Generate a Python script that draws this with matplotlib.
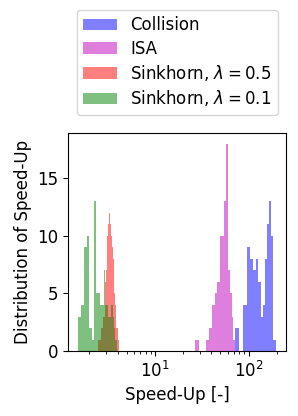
import numpy as np
import matplotlib
matplotlib.use("Agg")
import matplotlib.pyplot as plt

plt.rcParams["font.size"] = 12

# series (linear bins, log x-axis)
labels = ["Collision", "ISA", r"Sinkhorn, $\lambda = 0.5$", r"Sinkhorn, $\lambda = 0.1$"]
colors = ["b", "m", "r", "g"]

collision_range = (71.6, 197.0)
collision_counts = [2, 0, 4, 9, 8, 7, 8, 6, 3, 4, 8, 11, 13, 10, 1, 1]

isa_range = (26.9, 71.6)
isa_counts = [1, 0, 0, 1, 2, 4, 5, 6, 10, 10, 13, 18, 7, 5, 3, 1]

sink05_range = (2.50, 4.14)
sink05_counts = [1, 1, 2, 2, 3, 6, 7, 10, 11, 12, 11, 10, 9, 8, 5, 4, 3, 2, 2, 1]

sink01_range = (1.52, 3.92)
sink01_counts = [3, 4, 9, 10, 2, 1, 13, 5, 5, 4, 4, 7, 4, 4, 3, 3, 4, 3, 2, 1]

ranges = [collision_range, isa_range, sink05_range, sink01_range]
counts = [collision_counts, isa_counts, sink05_counts, sink01_counts]

fig = plt.figure(figsize=(2.98, 4.16), dpi=100)
ax = fig.add_axes([0.229, 0.156, 0.731, 0.524])

for (lo, hi), c, col, lab in zip(ranges, counts, colors, labels):
    edges = np.linspace(lo, hi, len(c) + 1)
    ax.hist(edges[:-1], bins=edges, weights=c, color=col, alpha=0.5, label=lab)

ax.set_xscale("log")
ax.set_xlabel("Speed-Up [-]")
ax.set_ylabel("Distribution of Speed-Up")
ax.legend(loc="lower center", bbox_to_anchor=(0.5, 1.045), labelspacing=0.32)

fig.savefig("out.png", dpi=100)
